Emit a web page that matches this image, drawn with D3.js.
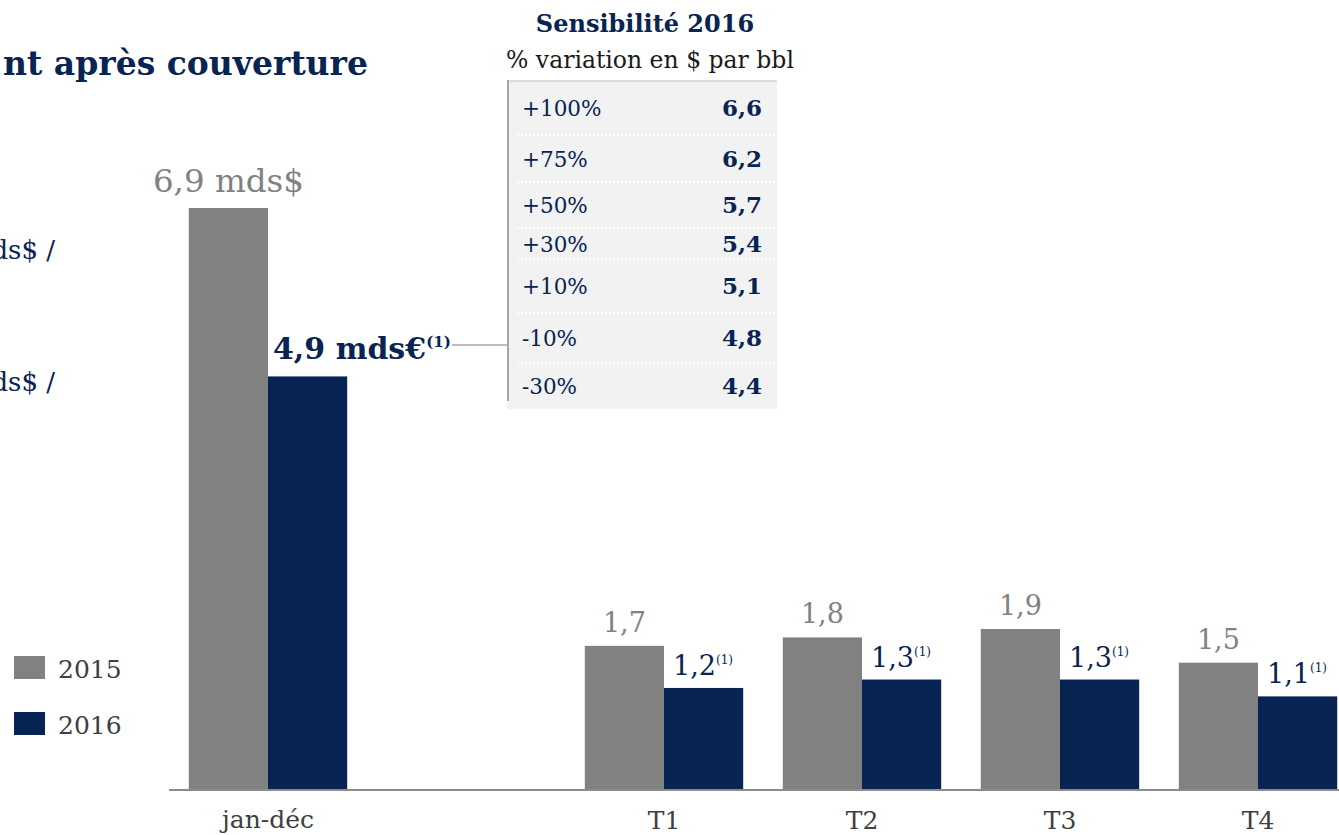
<!DOCTYPE html>
<html lang="fr">
<head>
<meta charset="UTF-8">
<title>Sensibilité 2016</title>
<script src="https://d3js.org/d3.v7.min.js"></script>
<style>
  body { margin: 0; background: #fff; }
  text { font-family: "DejaVu Serif", serif; }
</style>
</head>
<body>
<svg id="chart" width="1339" height="835"></svg>
<script>
// data
var categories = ["jan-déc", "", "T1", "T2", "T3", "T4"];
var values2015 = [6.9, null, 1.7, 1.8, 1.9, 1.5];
var values2016 = [4.9, null, 1.2, 1.3, 1.3, 1.1];
var seriesNames = ["2015", "2016"];
var sensLabels = ["+100%", "+75%", "+50%", "+30%", "+10%", "-10%", "-30%"];
var sensValues = ["6,6", "6,2", "5,7", "5,4", "5,1", "4,8", "4,4"];

var grey = "#818181", navy = "#072452";

var svg = d3.select("#chart");

var x = d3.scaleBand().domain(categories).range([169, 1357])
    .paddingInner(0.2).paddingOuter(0.1);
var xs = d3.scaleBand().domain([0, 1]).range([0, x.bandwidth()]);
var y = d3.scaleLinear().domain([0, 7]).range([789, 789 - 7 * 84.2]);

function fmt(v) { return v.toFixed(1).replace(".", ","); }

var rows = categories.map(function(c, i) {
    return {cat: c, v: [values2015[i], values2016[i]]};
}).filter(function(d) { return d.v[0] != null; });

// bars
var g = svg.selectAll("g.grp").data(rows).enter().append("g")
    .attr("class", "grp")
    .attr("transform", function(d) { return "translate(" + x(d.cat) + ",0)"; });

g.selectAll("rect").data(function(d) { return d.v; }).enter().append("rect")
    .attr("x", function(d, i) { return xs(i); })
    .attr("width", xs.bandwidth())
    .attr("y", function(d) { return y(d); })
    .attr("height", function(d) { return y(0) - y(d); })
    .attr("fill", function(d, i) { return i ? navy : grey; });

// axis line
svg.append("line")
    .attr("x1", 169).attr("x2", 1339)
    .attr("y1", y(0) + 1).attr("y2", y(0) + 1)
    .attr("stroke", "#8c8c8c").attr("stroke-width", 2);

// category labels
svg.selectAll("text.cat").data(rows).enter().append("text")
    .attr("class", "cat")
    .attr("x", function(d) { return x(d.cat) + x.bandwidth() / 2; })
    .attr("y", function(d) { return d.cat == "jan-déc" ? 828 : 829; })
    .attr("text-anchor", "middle")
    .attr("font-size", 25)
    .attr("fill", "#404040")
    .text(function(d) { return d.cat; });

// value labels 2015
svg.selectAll("text.v15").data(rows).enter().append("text")
    .attr("class", "v15")
    .attr("x", function(d) { return x(d.cat) + xs(0) + xs.bandwidth() / 2; })
    .attr("y", function(d) { return y(d.v[0]) - (d.cat == "jan-déc" ? 16 : 14); })
    .attr("text-anchor", "middle")
    .attr("font-size", function(d) { return d.cat == "jan-déc" ? 32.5 : 27; })
    .attr("fill", grey)
    .text(function(d) { return fmt(d.v[0]) + (d.cat == "jan-déc" ? " mds$" : ""); });

// value labels 2016
var l16 = svg.selectAll("text.v16").data(rows).enter().append("text")
    .attr("class", "v16")
    .attr("x", function(d) { return x(d.cat) + xs(1) + (d.cat == "jan-déc" ? 5 : 9); })
    .attr("y", function(d) { return y(d.v[1]) - (d.cat == "jan-déc" ? 17 : 13); })
    .attr("fill", navy)
    .attr("font-size", function(d) { return d.cat == "jan-déc" ? 30 : 27; })
    .attr("font-weight", function(d) { return d.cat == "jan-déc" ? "bold" : "normal"; });
l16.append("tspan")
    .text(function(d) { return fmt(d.v[1]) + (d.cat == "jan-déc" ? " mds€" : ""); });
l16.append("tspan")
    .attr("dy", function(d) { return d.cat == "jan-déc" ? -12 : -11; })
    .attr("font-size", function(d) { return d.cat == "jan-déc" ? 15 : 12; })
    .text("(1)");

// connector to table
svg.append("line")
    .attr("x1", 452).attr("x2", 507).attr("y1", 345).attr("y2", 345)
    .attr("stroke", "#a6a6a6").attr("stroke-width", 1.5);

// title (cut at left edge)
svg.append("text")
    .attr("x", 368).attr("y", 75)
    .attr("text-anchor", "end")
    .attr("font-size", 33).attr("font-weight", "bold")
    .attr("fill", navy)
    .text("nt après couverture");

// left fragments
[259, 391].forEach(function(yy) {
    svg.append("text")
        .attr("x", 55).attr("y", yy)
        .attr("text-anchor", "end")
        .attr("font-size", 26).attr("fill", navy)
        .text("ds$ /");
});

// legend
var lg = svg.selectAll("g.leg").data(seriesNames).enter().append("g")
    .attr("class", "leg")
    .attr("transform", function(d, i) { return "translate(14," + (656 + i * 56) + ")"; });
lg.append("rect").attr("width", 31).attr("height", 23)
    .attr("fill", function(d, i) { return i ? navy : grey; });
lg.append("text").attr("x", 44).attr("y", 22)
    .attr("font-size", 25).attr("fill", "#404040")
    .text(function(d) { return d; });

// sensitivity table
var rowEdges = [80, 135, 182, 228, 259, 313, 363, 409];
var tx0 = 507, tx1 = 777;
svg.append("text").attr("x", 645).attr("y", 32)
    .attr("text-anchor", "middle").attr("font-size", 24).attr("font-weight", "bold")
    .attr("fill", navy).text("Sensibilité 2016");
svg.append("text").attr("x", 650).attr("y", 68)
    .attr("text-anchor", "middle").attr("font-size", 23.5)
    .attr("fill", "#1a1a1a").text("% variation en $ par bbl");

svg.append("rect").attr("x", tx0).attr("y", rowEdges[0])
    .attr("width", tx1 - tx0).attr("height", rowEdges[7] - rowEdges[0])
    .attr("fill", "#f2f2f2");
svg.append("line").attr("x1", tx0).attr("x2", tx1)
    .attr("y1", rowEdges[0] + 1).attr("y2", rowEdges[0] + 1)
    .attr("stroke", "#d9dde3").attr("stroke-width", 2);
svg.selectAll("line.sep").data(rowEdges.slice(1, 7)).enter().append("line")
    .attr("class", "sep")
    .attr("x1", tx0 + 10).attr("x2", tx1)
    .attr("y1", function(d) { return d; }).attr("y2", function(d) { return d; })
    .attr("stroke", "#fff").attr("stroke-width", 2).attr("stroke-dasharray", "2,2");
svg.append("line").attr("x1", tx0 + 1).attr("x2", tx0 + 1)
    .attr("y1", rowEdges[0]).attr("y2", 401)
    .attr("stroke", "#a6a6a6").attr("stroke-width", 2);

var tr = svg.selectAll("g.trow").data(sensLabels).enter().append("g")
    .attr("class", "trow")
    .attr("transform", function(d, i) {
        return "translate(0," + ((rowEdges[i] + rowEdges[i + 1]) / 2 + 8) + ")";
    });
tr.append("text").attr("x", 522).attr("font-size", 21.5).attr("fill", navy)
    .text(function(d) { return d; });
tr.append("text").attr("x", 762).attr("text-anchor", "end")
    .attr("font-size", 23).attr("font-weight", "bold").attr("fill", navy)
    .text(function(d, i) { return sensValues[i]; });
</script>
</body>
</html>
